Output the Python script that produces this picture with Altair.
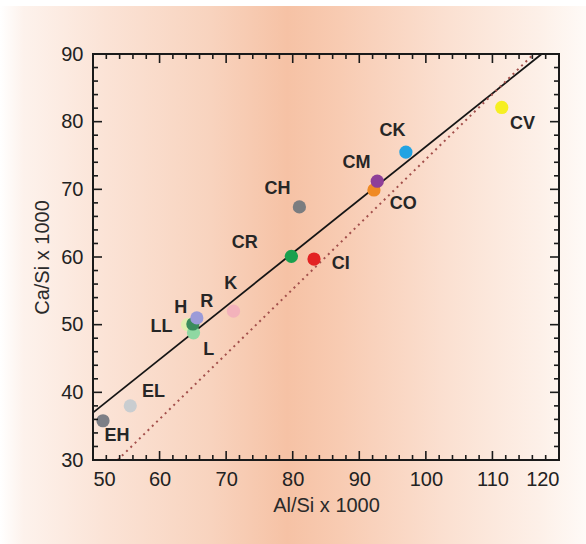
import altair as alt
import pandas as pd

# ---- data ----
names = ["EH", "EL", "LL", "L", "H", "R", "K", "CR", "CH", "CI", "CO", "CM", "CK", "CV"]
al_si = [51.5, 55.6, 64.2, 65.1, 65.0, 65.6, 71.1, 79.8, 81.0, 83.2, 92.2, 92.7, 97.0, 111.4]
ca_si = [35.8, 38.0, 50.0, 48.8, 50.1, 51.0, 52.0, 60.1, 67.4, 59.7, 69.9, 71.2, 75.5, 82.1]
colors = ["#7d7f86", "#c9cdd0", "#e0eeb0", "#8fd8a2", "#3a8c5c", "#9b9bd8", "#f3b2bb",
          "#1aa04e", "#7b7d80", "#e32222", "#f08a24", "#8e3f98", "#22a3e2", "#f6ef22"]
label_x = [53.6, 59.1, 60.3, 67.4, 63.2, 67.1, 70.7, 72.8, 77.7, 87.2, 96.6, 89.6, 95.0, 114.5]
label_y = [33.6, 40.1, 49.6, 46.2, 52.5, 53.3, 56.0, 62.0, 70.1, 59.0, 67.8, 73.9, 78.6, 79.7]

fit_x = [50.0, 117.4]
fit_y = [37.0, 90.0]
ci_x = [53.7, 116.2]
ci_y = [30.0, 90.0]

x_major = [50, 60, 70, 80, 90, 100, 110, 120]
y_major = [30, 40, 50, 60, 70, 80, 90]
x_minor = [v for v in range(50, 121, 2) if v % 10 != 0]
y_minor = [v for v in range(30, 91, 2) if v % 10 != 0]

W, H = 466, 406
PL, PT = 93, 54
FONT = "Liberation Sans"

pts = pd.DataFrame({"name": names, "x": al_si, "y": ca_si, "lx": label_x, "ly": label_y,
                    "order": list(range(len(names)))})

xs = alt.Scale(domain=[50, 120], nice=False, zero=False)
ys = alt.Scale(domain=[30, 90], nice=False, zero=False)

xaxis = alt.Axis(values=x_major, ticks=False, domain=False, grid=False, labelFont=FONT,
                 labelFontSize=20, labelColor="#222222", labelPadding=9, zindex=2,
                 title="Al/Si x 1000", titleFont=FONT, titleFontSize=20,
                 titleFontWeight="normal", titleColor="#2a2a2a", titlePadding=6)
yaxis = alt.Axis(values=y_major, ticks=False, domain=False, grid=False, labelFont=FONT,
                 labelFontSize=20, labelColor="#222222", labelPadding=10, zindex=2,
                 title="Ca/Si x 1000", titleFont=FONT, titleFontSize=20,
                 titleFontWeight="normal", titleColor="#2a2a2a", titlePadding=8)

grad = alt.Gradient(
    gradient="linear", x1=0, x2=1, y1=0, y2=0,
    stops=[
        alt.GradientStop(color="#ffffff", offset=0.0),
        alt.GradientStop(color="#fdf2ec", offset=0.04),
        alt.GradientStop(color="#fbe3d6", offset=0.18),
        alt.GradientStop(color="#f8d3be", offset=0.36),
        alt.GradientStop(color="#f6c2a5", offset=0.49),
        alt.GradientStop(color="#f8cbb2", offset=0.58),
        alt.GradientStop(color="#fbe0d1", offset=0.76),
        alt.GradientStop(color="#fdf0e8", offset=0.92),
        alt.GradientStop(color="#fefaf7", offset=1.0),
    ],
)

base_one = pd.DataFrame({"a": [0]})

bg = alt.Chart(base_one).mark_rect(fill=grad).encode(
    x=alt.value(-PL), x2=alt.value(586 - PL), y=alt.value(-PT + 6), y2=alt.value(544 - PT)
)

fit = alt.Chart(pd.DataFrame({"x": fit_x, "y": fit_y})).mark_line(
    color="#151515", strokeWidth=1.8
).encode(x=alt.X("x:Q", scale=xs, axis=xaxis), y=alt.Y("y:Q", scale=ys, axis=yaxis))

ci = alt.Chart(pd.DataFrame({"x": ci_x, "y": ci_y})).mark_line(
    color="#a3504c", strokeWidth=2, strokeDash=[2, 4]
).encode(x=alt.X("x:Q", scale=xs), y=alt.Y("y:Q", scale=ys))

points = alt.Chart(pts).mark_circle(size=175, opacity=1).encode(
    x=alt.X("x:Q", scale=xs),
    y=alt.Y("y:Q", scale=ys),
    color=alt.Color("name:N", scale=alt.Scale(domain=names, range=colors), legend=None),
    order=alt.Order("order:Q"),
)

labels = alt.Chart(pts).mark_text(
    font=FONT, fontSize=18, fontWeight="bold", color="#262626", align="center", baseline="middle"
).encode(x=alt.X("lx:Q", scale=xs), y=alt.Y("ly:Q", scale=ys), text="name:N")

def xticks(vals, length):
    d = pd.DataFrame({"v": vals})
    b = alt.Chart(d).mark_rule(color="#1a1a1a", strokeWidth=1.6)
    return [
        b.encode(x=alt.X("v:Q", scale=xs), y=alt.value(H), y2=alt.value(H - length)),
        b.encode(x=alt.X("v:Q", scale=xs), y=alt.value(0), y2=alt.value(length)),
    ]

def yticks(vals, length):
    d = pd.DataFrame({"v": vals})
    b = alt.Chart(d).mark_rule(color="#1a1a1a", strokeWidth=1.6)
    return [
        b.encode(y=alt.Y("v:Q", scale=ys), x=alt.value(0), x2=alt.value(length)),
        b.encode(y=alt.Y("v:Q", scale=ys), x=alt.value(W), x2=alt.value(W - length)),
    ]

ticks = xticks(x_major, 9) + xticks(x_minor, 5) + yticks(y_major, 9) + yticks(y_minor, 5)

frame = alt.Chart(base_one).mark_rect(fill=None, stroke="#1a1a1a", strokeWidth=2).encode(
    x=alt.value(0), x2=alt.value(W), y=alt.value(0), y2=alt.value(H)
)

chart = alt.layer(bg, fit, ci, points, labels, *ticks, frame).properties(
    width=W, height=H,
    autosize=alt.AutoSizeParams(type="none"),
    padding={"left": PL, "top": PT, "right": 586 - PL - W, "bottom": 544 - PT - H},
).configure(background="#ffffff").configure_view(stroke=None)

chart.save("out.html", embed_options={"renderer": "svg", "actions": False})
